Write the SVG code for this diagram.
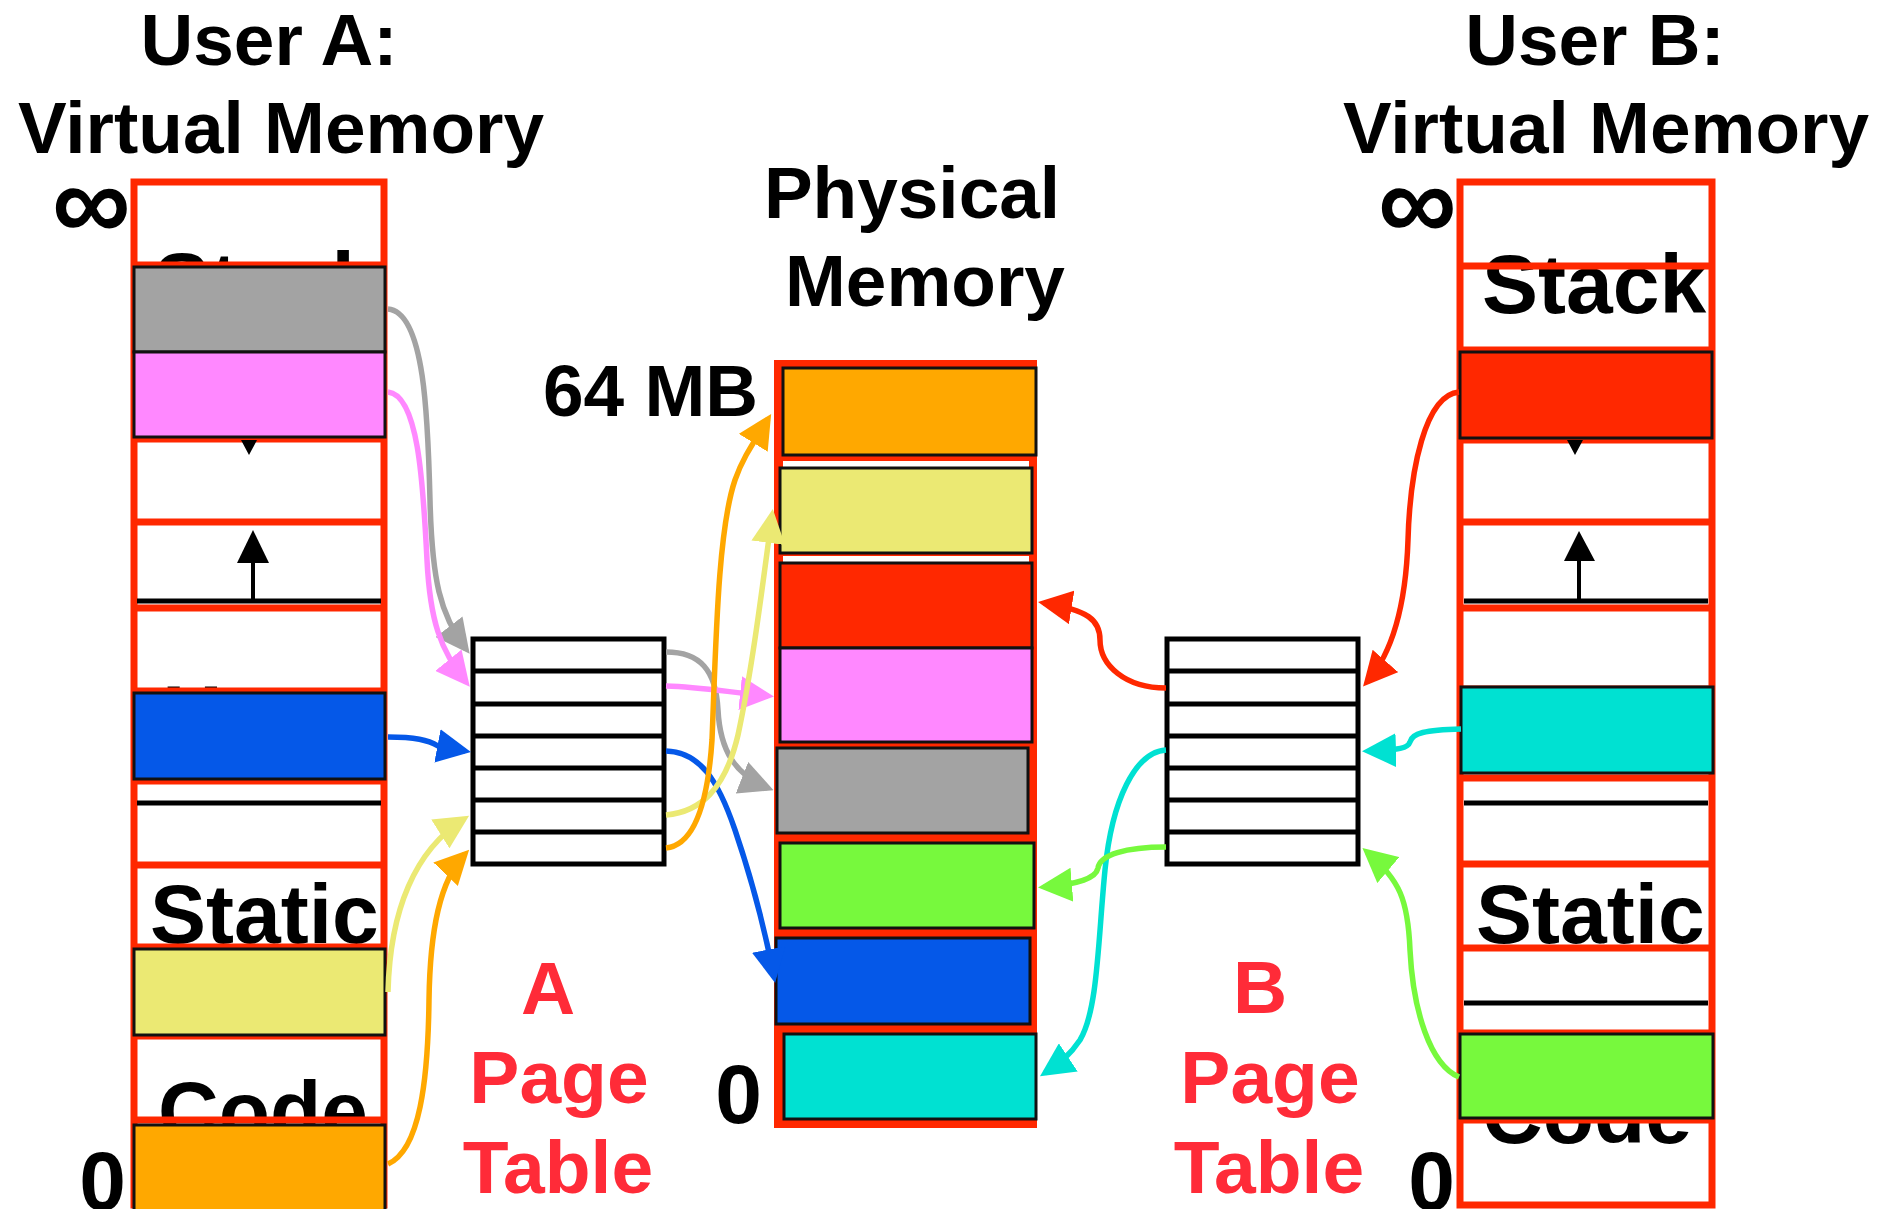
<svg xmlns="http://www.w3.org/2000/svg" width="1898" height="1209" viewBox="0 0 1898 1209">
<style>
.t{font-family:"Liberation Sans",Arial,sans-serif;font-weight:bold;fill:#000}
.title{font-size:73px;text-anchor:middle}
.seg{font-size:84px}
.inf{font-size:110px}
.lab{font-family:"Liberation Sans",Arial,sans-serif;font-weight:bold;font-size:75px;fill:#ff2b38;text-anchor:middle}
.redl{stroke:#ff2800;stroke-width:7;fill:none}
.blk{stroke:#000;stroke-width:5}
.box{stroke:#111;stroke-width:3}
.pt{fill:#fff;stroke:#000;stroke-width:5}
.ptl{stroke:#000;stroke-width:5}
.c{fill:none;stroke-width:5.5}
</style>
<defs>
<marker id="mGray" viewBox="0 0 34 34" refX="28" refY="17" markerWidth="34" markerHeight="34" markerUnits="userSpaceOnUse" orient="auto"><path d="M0,0 L34,17 L0,34 z" fill="#a3a3a3"/></marker>
<marker id="mPink" viewBox="0 0 34 34" refX="28" refY="17" markerWidth="34" markerHeight="34" markerUnits="userSpaceOnUse" orient="auto"><path d="M0,0 L34,17 L0,34 z" fill="#ff88ff"/></marker>
<marker id="mBlue" viewBox="0 0 34 34" refX="28" refY="17" markerWidth="34" markerHeight="34" markerUnits="userSpaceOnUse" orient="auto"><path d="M0,0 L34,17 L0,34 z" fill="#0558e8"/></marker>
<marker id="mYel" viewBox="0 0 34 34" refX="28" refY="17" markerWidth="34" markerHeight="34" markerUnits="userSpaceOnUse" orient="auto"><path d="M0,0 L34,17 L0,34 z" fill="#ebe973"/></marker>
<marker id="mOra" viewBox="0 0 34 34" refX="28" refY="17" markerWidth="34" markerHeight="34" markerUnits="userSpaceOnUse" orient="auto"><path d="M0,0 L34,17 L0,34 z" fill="#ffa800"/></marker>
<marker id="mRed" viewBox="0 0 34 34" refX="28" refY="17" markerWidth="34" markerHeight="34" markerUnits="userSpaceOnUse" orient="auto"><path d="M0,0 L34,17 L0,34 z" fill="#ff2800"/></marker>
<marker id="mCyan" viewBox="0 0 34 34" refX="28" refY="17" markerWidth="34" markerHeight="34" markerUnits="userSpaceOnUse" orient="auto"><path d="M0,0 L34,17 L0,34 z" fill="#00e1d2"/></marker>
<marker id="mGreen" viewBox="0 0 34 34" refX="28" refY="17" markerWidth="34" markerHeight="34" markerUnits="userSpaceOnUse" orient="auto"><path d="M0,0 L34,17 L0,34 z" fill="#77f93d"/></marker>
</defs>
<rect width="1898" height="1209" fill="#fff"/>

<g id="titles">
<text class="t title" x="269" y="65">User A:</text>
<text class="t title" x="281" y="153">Virtual Memory</text>
<text class="t title" x="1595" y="65">User B:</text>
<text class="t title" x="1606" y="153">Virtual Memory</text>
<text class="t title" x="912" y="218">Physical</text>
<text class="t title" x="925" y="306">Memory</text>
<text class="t title" x="758" y="416" style="text-anchor:end">64 MB</text>
</g>

<g id="userA-vm">
<rect x="134" y="182" width="250" height="1023" fill="#fff"/>
<text class="t seg" x="154" y="311">Stack</text>
<text class="t seg" x="162" y="744">Heap</text>
<text class="t seg" x="150" y="943">Static</text>
<text class="t seg" x="158" y="1140">Code</text>
<g class="redl">
<rect x="134" y="182" width="250" height="1023"/>
<path d="M134 265H384M134 439H384M134 522H384M134 608H384M134 691H384M134 781H384M134 865H384M134 947H384M134 1036H384M134 1120H384"/>
</g>
<path class="blk" d="M137 601H381M137 803H381"/>
<polygon points="241,440 257,440 249,455" fill="#000"/>
<line x1="253" y1="558" x2="253" y2="600" stroke="#000" stroke-width="4"/>
<polygon points="237,563 269,563 253,530" fill="#000"/>
<rect class="box" x="134" y="267" width="251" height="85" fill="#a3a3a3"/>
<rect class="box" x="134" y="352" width="251" height="85" fill="#ff88ff"/>
<rect class="box" x="134" y="693" width="251" height="86" fill="#0558e8"/>
<rect class="box" x="134" y="949" width="251" height="86" fill="#ebe973"/>
<rect class="box" x="134" y="1125" width="251" height="86" fill="#ffa800"/>
<text class="t inf" x="52" y="240">∞</text>
<text class="t seg" x="126" y="1210" style="text-anchor:end">0</text>
</g>

<g id="userB-vm">
<rect x="1460" y="182" width="252" height="1023" fill="#fff"/>
<text class="t seg" x="1482" y="313">Stack</text>
<text class="t seg" x="1480" y="744">Heap</text>
<text class="t seg" x="1476" y="943">Static</text>
<text class="t seg" x="1482" y="1143">Code</text>
<g class="redl">
<rect x="1460" y="182" width="252" height="1023"/>
<path d="M1460 266H1712M1460 350H1712M1460 440H1712M1460 522H1712M1460 608H1712M1460 689H1712M1460 778H1712M1460 864H1712M1460 948H1712M1460 1033H1712M1460 1120H1712"/>
</g>
<path class="blk" d="M1464 601H1708M1464 803H1708M1464 1003H1708"/>
<polygon points="1567,440 1583,440 1575,455" fill="#000"/>
<line x1="1579" y1="556" x2="1579" y2="601" stroke="#000" stroke-width="4"/>
<polygon points="1564,561 1595,561 1579,531" fill="#000"/>
<rect class="box" x="1460" y="352" width="252" height="86" fill="#ff2800"/>
<rect class="box" x="1461" y="687" width="252" height="86" fill="#00e1d2"/>
<rect class="box" x="1460" y="1034" width="253" height="84" fill="#77f93d"/>
<text class="t inf" x="1378" y="240">∞</text>
<text class="t seg" x="1455" y="1210" style="text-anchor:end">0</text>
</g>

<g id="physical-memory">
<rect x="774" y="360" width="263" height="768" fill="#ff2800"/>
<rect x="783" y="461" width="246" height="7" fill="#fff"/>
<rect x="783" y="556" width="246" height="7" fill="#fff"/>
<rect class="box" x="783" y="368" width="253" height="87" fill="#ffa800"/>
<rect class="box" x="780" y="468" width="252" height="85" fill="#ebe973"/>
<rect class="box" x="780" y="563" width="252" height="85" fill="#ff2800"/>
<rect class="box" x="780" y="648" width="252" height="94" fill="#ff88ff"/>
<rect class="box" x="777" y="748" width="251" height="85" fill="#a3a3a3"/>
<rect class="box" x="780" y="843" width="254" height="85" fill="#77f93d"/>
<rect class="box" x="776" y="938" width="254" height="86" fill="#0558e8"/>
<rect class="box" x="784" y="1034" width="252" height="85" fill="#00e1d2"/>
<text class="t seg" x="762" y="1123" style="text-anchor:end">0</text>
</g>

<g id="page-table-A">
<rect class="pt" x="473" y="639" width="191" height="225"/>
<path class="ptl" d="M473 671H664M473 704H664M473 736H664M473 768H664M473 800H664M473 832H664"/>
<text class="lab" x="548" y="1014">A</text>
<text class="lab" x="559" y="1103">Page</text>
<text class="lab" x="558" y="1193">Table</text>
</g>

<g id="page-table-B">
<rect class="pt" x="1167" y="639" width="191" height="225"/>
<path class="ptl" d="M1167 671H1358M1167 704H1358M1167 736H1358M1167 768H1358M1167 800H1358M1167 832H1358"/>
<text class="lab" x="1260" y="1013">B</text>
<text class="lab" x="1270" y="1103">Page</text>
<text class="lab" x="1269" y="1193">Table</text>
</g>

<g id="connectors">
<path class="c" stroke="#a3a3a3" marker-end="url(#mGray)" d="M388 309C425 312 428 420 430 500C432 580 440 615 466 649"/>
<path class="c" stroke="#ff88ff" marker-end="url(#mPink)" d="M388 392C418 395 423 480 427 560C430 620 440 650 466 682"/>
<path class="c" stroke="#0558e8" marker-end="url(#mBlue)" d="M388 737C415 737 428 740 438 746L465 751"/>
<path class="c" stroke="#ebe973" marker-end="url(#mYel)" d="M388 992C390 910 415 850 464 819"/>
<path class="c" stroke="#ffa800" marker-end="url(#mOra)" d="M388 1164C420 1150 428 1080 429 1000C430 930 440 880 465 854"/>
<path class="c" stroke="#a3a3a3" marker-end="url(#mGray)" d="M666 652C700 652 716 670 718 710C720 750 735 775 768 788"/>
<path class="c" stroke="#ff88ff" marker-end="url(#mPink)" d="M666 686C700 687 720 691 768 696"/>
<path class="c" stroke="#0558e8" marker-end="url(#mBlue)" d="M666 751C700 752 718 780 735 830C752 880 765 930 774 977"/>
<path class="c" stroke="#ebe973" marker-end="url(#mYel)" d="M666 815C700 812 725 790 738 735C752 670 762 590 772 515"/>
<path class="c" stroke="#ffa800" marker-end="url(#mOra)" d="M666 848C695 845 708 800 712 740C716 640 718 530 735 480C742 460 750 448 768 419"/>
<path class="c" stroke="#ff2800" marker-end="url(#mRed)" d="M1459 392C1425 395 1410 470 1408 540C1406 600 1395 650 1367 682"/>
<path class="c" stroke="#ff2800" marker-end="url(#mRed)" d="M1166 688C1125 688 1100 665 1100 640C1100 620 1088 610 1044 603"/>
<path class="c" stroke="#00e1d2" marker-end="url(#mCyan)" d="M1461 729C1425 730 1412 733 1410 742C1408 748 1400 750 1368 751"/>
<path class="c" stroke="#00e1d2" marker-end="url(#mCyan)" d="M1166 750C1135 752 1112 800 1105 870C1098 940 1098 1010 1080 1040C1070 1055 1060 1063 1045 1073"/>
<path class="c" stroke="#77f93d" marker-end="url(#mGreen)" d="M1459 1077C1430 1065 1413 1010 1410 950C1408 900 1400 880 1367 852"/>
<path class="c" stroke="#77f93d" marker-end="url(#mGreen)" d="M1166 847C1125 847 1100 855 1098 868C1096 878 1080 884 1044 887"/>
</g>
</svg>
